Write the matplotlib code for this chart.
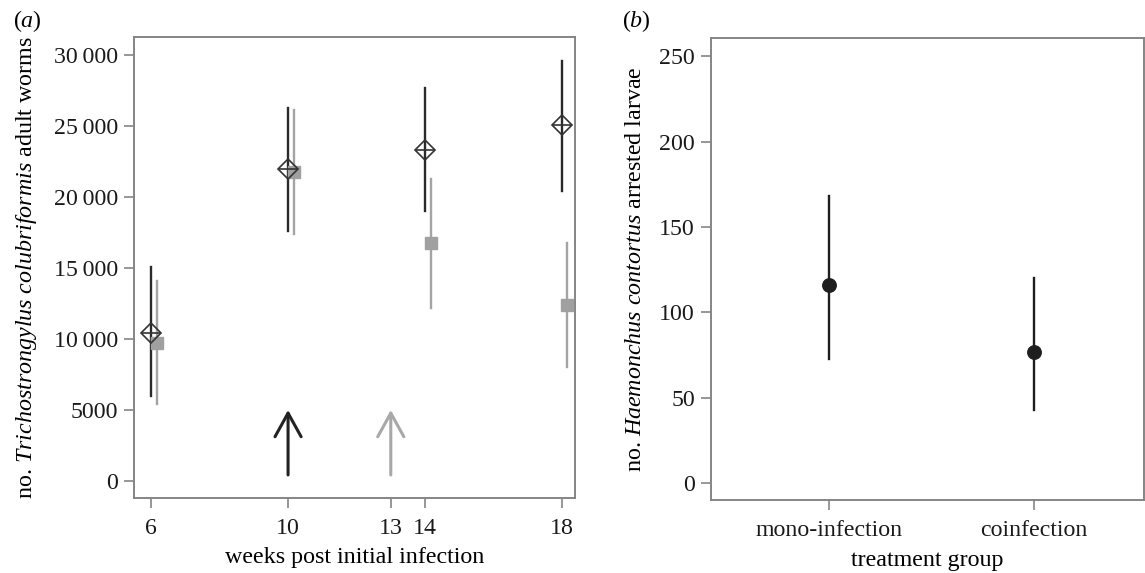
import matplotlib
matplotlib.use("Agg")
import matplotlib.pyplot as plt

plt.rcParams["font.family"] = ["Liberation Serif", "DejaVu Serif"]
plt.rcParams["mathtext.fontset"] = "custom"
plt.rcParams["mathtext.rm"] = "Liberation Serif"
plt.rcParams["mathtext.it"] = "Liberation Serif:italic"

# panel (a): worm counts per week
weeks = [6, 10, 14, 18]
mono_mean = [10450, 21950, 23350, 25050]
mono_low = [5950, 17600, 19000, 20400]
mono_high = [15050, 26300, 27700, 29600]
co_mean = [9750, 21750, 16750, 12400]
co_low = [5400, 17400, 12200, 8050]
co_high = [14100, 26100, 21300, 16750]
arrow_weeks = [10, 13]
arrow_base = [420, 420]
arrow_tip = [5000, 5000]
arrow_colors = ["#222222", "#a8a8a8"]
xticks_a = [6, 10, 13, 14, 18]
yticks_a = [0, 5000, 10000, 15000, 20000, 25000, 30000]
ylabels_a = ["0", "5000", "10\u2009000", "15\u2009000", "20\u2009000", "25\u2009000", "30\u2009000"]

# panel (b): arrested larvae per group
groups = ["mono-infection", "coinfection"]
larvae_mean = [116, 77]
larvae_low = [73, 43]
larvae_high = [168, 120]
yticks_b = [0, 50, 100, 150, 200, 250]

BLACK = "#2a2a2a"
GREY = "#a4a4a4"
SPINE = "#858585"
FS = 17.2     # tick labels
LFS = 17.3    # axis labels
offset = 0.16

fig = plt.figure(figsize=(11.45, 5.73), dpi=100)
ax1 = fig.add_axes([0.117, 0.131, 0.3852, 0.805])
ax2 = fig.add_axes([0.621, 0.127, 0.378, 0.806])


def style(ax):
    for s in ax.spines.values():
        s.set_color(SPINE)
        s.set_linewidth(1.4)
    ax.tick_params(direction="out", length=7.5, width=1.2, color=SPINE,
                   labelsize=FS, pad=7, labelcolor="#1a1a1a")


# ---- panel a ----
for i, w in enumerate(weeks):
    ax1.plot([w, w], [mono_low[i], mono_high[i]], color=BLACK, lw=1.7, zorder=2)
    ax1.plot([w + offset, w + offset], [co_low[i], co_high[i]], color=GREY, lw=1.7, zorder=2)
ax1.plot([w + offset for w in weeks], co_mean, ls="none", marker="s", ms=8.6,
         color="#a0a0a0", zorder=3)
ax1.plot(weeks, mono_mean, ls="none", marker="D", ms=9.8, mfc="none",
         mec="#333333", mew=1.2, zorder=4)
ax1.plot(weeks, mono_mean, ls="none", marker="_", ms=13.8, mec="#333333",
         mew=1.2, zorder=4)

for x, y0, y1, c in zip(arrow_weeks, arrow_base, arrow_tip, arrow_colors):
    ax1.annotate("", xy=(x, y1), xytext=(x, y0),
                 arrowprops=dict(arrowstyle="->,head_length=0.85,head_width=0.47",
                                 color=c, lw=2.2, shrinkA=0, shrinkB=0,
                                 mutation_scale=20))

ax1.set_xlim(5.5, 18.38)
ax1.set_ylim(-1200, 31300)
ax1.set_xticks(xticks_a)
ax1.set_yticks(yticks_a, ylabels_a)
style(ax1)
ax1.tick_params(axis="y", pad=4)
ax1.set_xlabel("weeks post initial infection", fontsize=LFS, labelpad=6)
ax1.set_ylabel(r"no. $\mathit{Trichostrongylus\ colubriformis}$ adult worms", fontsize=LFS)
ax1.yaxis.set_label_coords(-0.215, 0.5)
fig.text(0.011, 0.964, r"($\mathit{a}$)", fontsize=LFS, va="center")

# ---- panel b ----
xpos = list(range(len(groups)))
for i, x in enumerate(xpos):
    ax2.plot([x, x], [larvae_low[i], larvae_high[i]], color="#1e1e1e", lw=1.7, zorder=2)
ax2.plot(xpos, larvae_mean, ls="none", marker="o", ms=9.7, color="#1e1e1e", zorder=3)
ax2.set_xlim(-0.58, 1.54)
ax2.set_ylim(-10, 260.5)
ax2.set_xticks(xpos, groups)
ax2.set_yticks(yticks_b)
style(ax2)
ax2.tick_params(axis="y", pad=4)
ax2.set_xlabel("treatment group", fontsize=LFS, labelpad=6)
ax2.set_ylabel(r"no. $\mathit{Haemonchus\ contortus}$ arrested larvae", fontsize=LFS)
ax2.yaxis.set_label_coords(-0.15, 0.5)
fig.text(0.543, 0.964, r"($\mathit{b}$)", fontsize=LFS, va="center")

fig.savefig("out.png", dpi=100)
